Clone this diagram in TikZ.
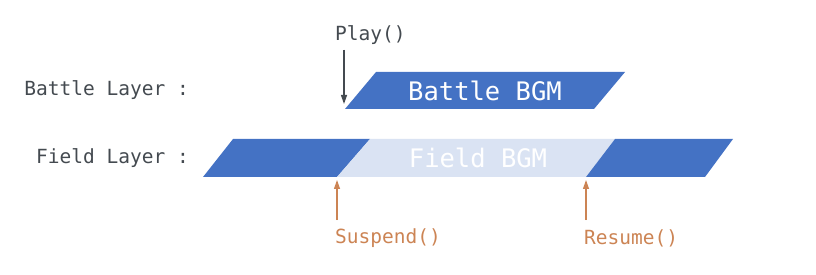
\documentclass[tikz,border=0pt]{standalone}
\usepackage{fontspec}
\setmonofont{DejaVu Sans Mono}
\usetikzlibrary{arrows.meta}
\definecolor{barblue}{RGB}{68,114,196}
\definecolor{barlight}{RGB}{218,227,243}
\definecolor{txtgray}{RGB}{68,74,80}
\definecolor{callorange}{RGB}{204,132,84}
\tikzset{
  lbl/.style={font=\ttfamily\fontsize{19.5}{22}\selectfont, inner sep=0pt},
  bartxt/.style={font=\ttfamily\fontsize{25.5}{28}\selectfont, inner sep=0pt, text=white},
  callarrow/.style={line width=1.2pt, -{Triangle[width=6pt,length=9pt]}},
}
\begin{document}
\begin{tikzpicture}[x=1pt,y=-1pt]
\useasboundingbox (0,0) rectangle (816,275);
% battle bar
\fill[barblue] (345,109) -- (376,72) -- (625,72) -- (594,109) -- cycle;
% field bars
\fill[barblue] (203,177) -- (233,139) -- (370,139) -- (337,177) -- cycle;
\fill[barlight] (337,177) -- (370,139) -- (615,139) -- (586,177) -- cycle;
\fill[barblue] (586,177) -- (615,139) -- (733,139) -- (705,177) -- cycle;
% texts
\node[bartxt] (battle) at (485,91) {Battle BGM};
\node[bartxt] (field) at (478,158) {Field BGM};
\node[lbl, text=txtgray, anchor=east] (bl) at (189,90) {Battle Layer :};
\node[lbl, text=txtgray, anchor=east] (fl) at (189,158) {Field Layer :};
\node[lbl, text=txtgray, anchor=west] (play) at (335,35) {Play()};
\node[lbl, text=callorange, anchor=west] (susp) at (335,238) {Suspend()};
\node[lbl, text=callorange, anchor=west] (res) at (584,238) {Resume()};
% arrows
\coordinate (p1) at (344,50);
\coordinate (p2) at (344,104);
\coordinate (s1) at (337,220);
\coordinate (s2) at (337,180);
\coordinate (r1) at (586,220);
\coordinate (r2) at (586,180);
\draw[callarrow, draw=txtgray, fill=txtgray] (p1) -- (p2);
\draw[callarrow, draw=callorange, fill=callorange] (s1) -- (s2);
\draw[callarrow, draw=callorange, fill=callorange] (r1) -- (r2);
\end{tikzpicture}
\end{document}
